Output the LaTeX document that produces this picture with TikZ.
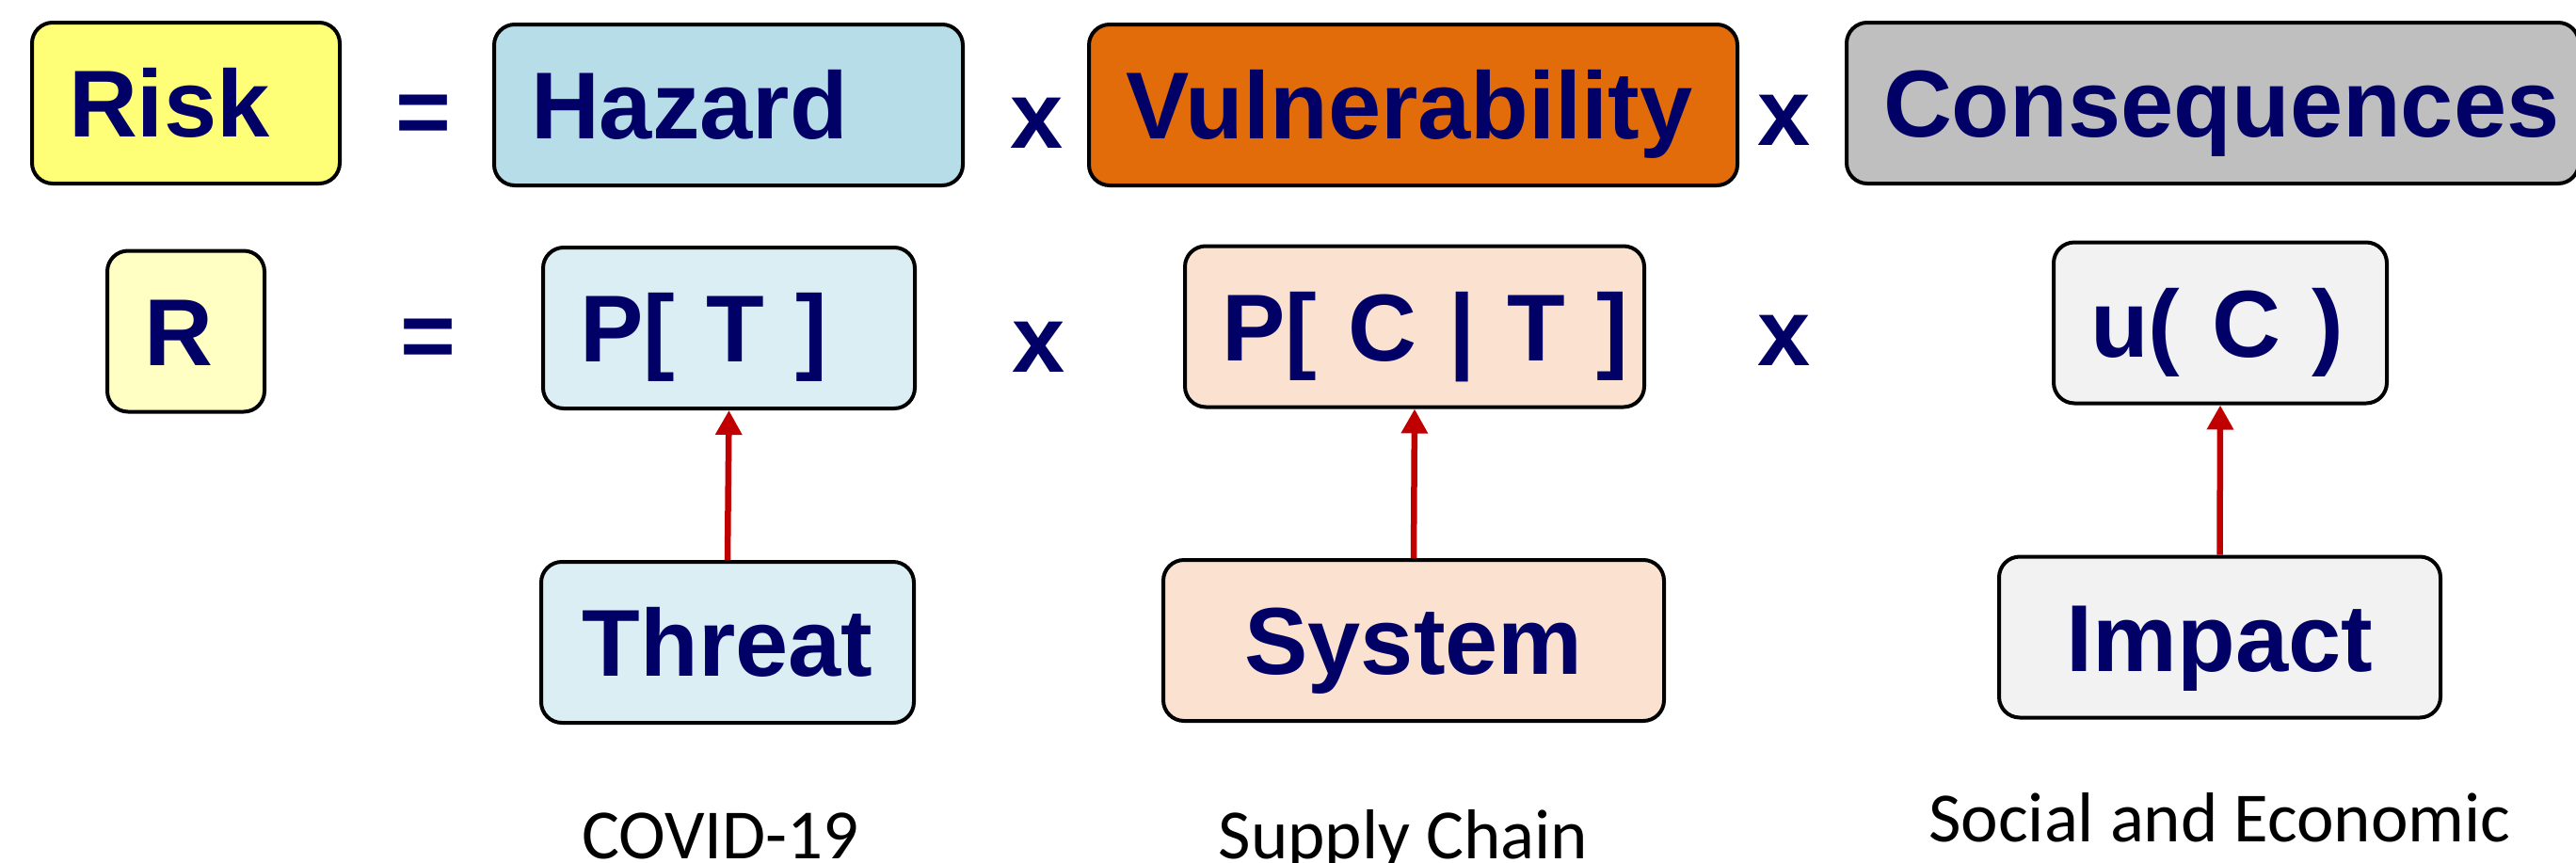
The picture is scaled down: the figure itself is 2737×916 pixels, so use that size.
\documentclass[tikz,border=0pt]{standalone}
\usepackage{fontspec}
\setmainfont{Liberation Sans}
\newfontfamily\labelfont{Carlito}
\usetikzlibrary{arrows.meta}
\hyphenpenalty=10000
\exhyphenpenalty=10000

\definecolor{txtnavy}{RGB}{0,0,102}
\definecolor{arrowred}{RGB}{192,0,0}
\definecolor{riskyellow}{RGB}{255,255,119}
\definecolor{rpale}{RGB}{255,255,196}
\definecolor{hazblue}{RGB}{183,221,232}
\definecolor{paleblue}{RGB}{218,238,243}
\definecolor{vulnorange}{RGB}{227,108,10}
\definecolor{palepeach}{RGB}{251,226,208}
\definecolor{consgrey}{RGB}{191,191,191}
\definecolor{palegrey}{RGB}{242,242,242}

\begin{document}
\begin{tikzpicture}[x=1pt,y=-1pt,
  term/.style={draw=black, line width=4pt, rounded corners=22pt,
    inner ysep=0pt, text height=72pt, text depth=0pt, minimum height=171pt,
    font=\fontsize{101}{110}\selectfont\bfseries, text=txtnavy},
  lterm/.style={term, inner xsep=39pt, align=left, text width=#1},
  cterm/.style={term, inner xsep=0pt, minimum width=#1},
  op/.style={font=\fontsize{101}{110}\selectfont\bfseries, text=txtnavy,
    anchor=base, inner sep=0pt},
  link/.style={draw=arrowred, line width=6.5pt,
    -{Triangle[width=27pt,length=26pt]}},
  caption/.style={font=\labelfont\fontsize{75}{80}\selectfont,
    anchor=base, inner sep=0pt}
]
\useasboundingbox (0,0) rectangle (2737,916);
\clip (0,0) rectangle (2737,916);

% top row: words
\node[lterm=249pt, fill=riskyellow] (risk) at (197.5,109.5) {Risk};
\node[op] (eq1) at (449.5,153) {=};
\node[lterm=420pt, fill=hazblue] (hazard) at (774,111.5) {Hazard};
\node[op] (x1) at (1101.5,157) {x};
\node[lterm=611pt, fill=vulnorange] (vuln) at (1501.5,111.5) {Vulnerability};
\node[op] (x2) at (1895.5,154) {x};
\node[lterm=700pt, fill=consgrey] (cons) at (2351,109.5) {Consequences};

% middle row: symbols
\node[lterm=89pt, fill=rpale] (r) at (197.5,352) {R};
\node[op] (eq2) at (454.5,391) {=};
\node[lterm=317pt, fill=paleblue] (pt) at (774.5,348.5) {P[~T~]};
\node[op] (x3) at (1104,395) {x};
\node[lterm=410pt, fill=palepeach] (pct) at (1503,347) {P[~C~|~T~]};
\node[op] (x4) at (1895.5,388) {x};
\node[lterm=276pt, fill=palegrey] (uc) at (2359,343) {u(~C~)};

% bottom row: sources
\node[cterm=396pt, fill=paleblue] (threat) at (773,682.5) {Threat};
\node[cterm=532pt, fill=palepeach] (system) at (1502,680.5) {System};
\node[cterm=469pt, fill=palegrey] (impact) at (2358.5,677) {Impact};

\draw[link] (threat.north) -- (pt.south);
\draw[link] (system.north) -- (pct.south);
\draw[link] (impact.north) -- (uc.south);

% captions
\node[caption] (cap1) at (765.5,912) {COVID-19};
\node[caption] (cap2) at (1491,912) {Supply Chain};
\node[caption] (cap3) at (2358.5,894) {Social and Economic};
\end{tikzpicture}
\end{document}
